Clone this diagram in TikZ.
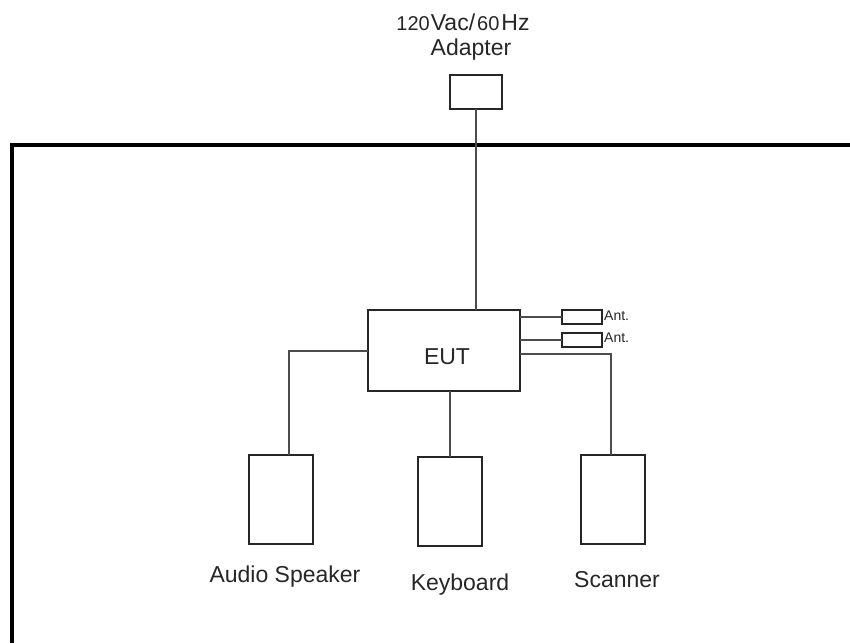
\documentclass[tikz,border=0pt]{standalone}
\usepackage{fontspec}
\setmainfont{Liberation Sans}
\begin{document}
\begin{tikzpicture}[x=1pt,y=-1pt,
  box/.style={draw=black!85,line width=2.4pt,rectangle,inner sep=0pt,outer sep=0pt},
  wire/.style={draw=black!70,line width=2pt},
  lbl/.style={text=black!85,font=\fontsize{23}{27}\selectfont,inner sep=0pt},
  antlbl/.style={text=black!85,font=\fontsize{14}{16}\selectfont,inner sep=0pt,anchor=west}]
\useasboundingbox (0,0) rectangle (850,643);
% frame
\draw[line width=4pt,line join=miter] (12,643) -- (12,145) -- (850,145);
% nodes
\node[lbl] (t1) at (463,22) {{\fontsize{20}{23}\selectfont 120}\kern1ptVac/\kern2pt{\fontsize{20}{23}\selectfont 60}\kern2ptHz};
\node[lbl] (t2) at (471,50) {Adapter};
\node[box,minimum width=52pt,minimum height=34pt] (adapter) at (476,92) {};
\node[box,minimum width=152pt,minimum height=81pt] (eut) at (444,350.5) {};
\node[lbl] (eutl) at (447,357) {EUT};
\node[box,line width=2pt,minimum width=40pt,minimum height=14pt] (ant1) at (582,317) {};
\node[box,line width=2pt,minimum width=40pt,minimum height=14pt] (ant2) at (582,339.5) {};
\node[antlbl] (a1l) at (604,316) {Ant.};
\node[antlbl] (a2l) at (604,338) {Ant.};
\node[box,minimum width=64pt,minimum height=89pt] (audio) at (281,499.5) {};
\node[box,minimum width=64pt,minimum height=89pt] (keyboard) at (450,501.5) {};
\node[box,minimum width=64pt,minimum height=89pt] (scanner) at (613,499.5) {};
\node[lbl] (audiol) at (285,577) {Audio Speaker};
\node[lbl] (keyl) at (460,585) {Keyboard};
\node[lbl] (scanl) at (617,580) {Scanner};
% connectors
\draw[wire] (adapter.south) -- (adapter.south |- eut.north);
\draw[wire] (ant1.west -| eut.east) -- (ant1.west);
\draw[wire] (ant2.west -| eut.east) -- (ant2.west);
\draw[wire] (eut.west) -| ([xshift=8pt]audio.north);
\draw[wire] (eut.south -| keyboard.north) -- (keyboard.north);
\draw[wire] ([yshift=-3pt]eut.east) -| ([xshift=-2pt]scanner.north);
\end{tikzpicture}
\end{document}
